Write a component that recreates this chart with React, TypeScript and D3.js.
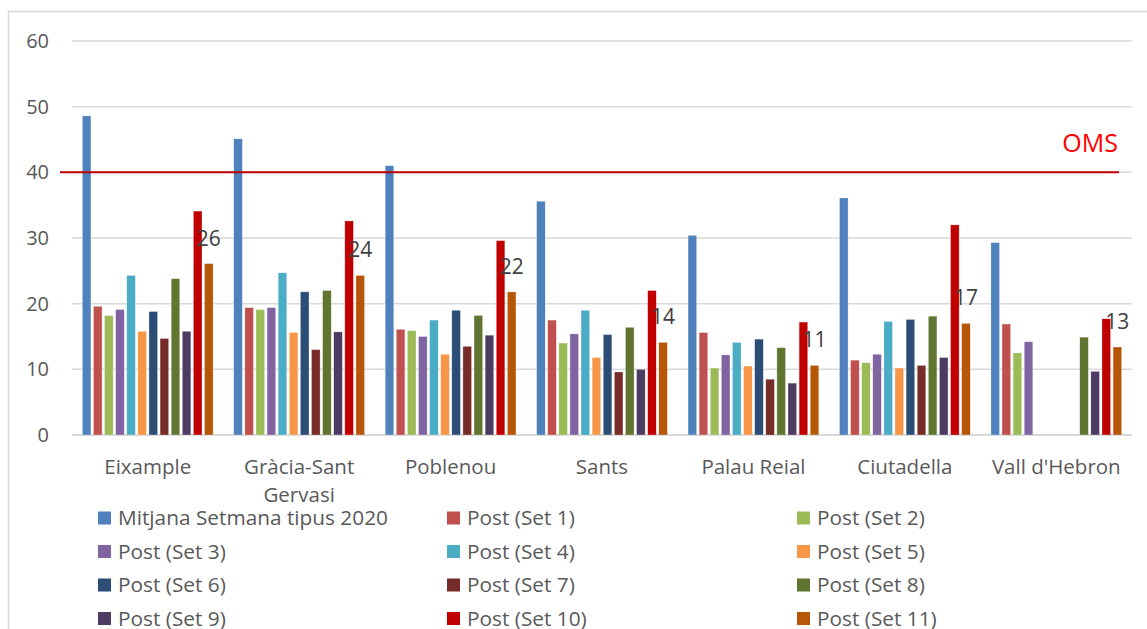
import * as React from 'react';
import * as d3 from 'd3';

const categories = ['Eixample', 'Gràcia-Sant Gervasi', 'Poblenou', 'Sants', 'Palau Reial', 'Ciutadella', "Vall d'Hebron"];
const seriesNames = [
  'Mitjana Setmana tipus 2020', 'Post (Set 1)', 'Post (Set 2)', 'Post (Set 3)', 'Post (Set 4)', 'Post (Set 5)',
  'Post (Set 6)', 'Post (Set 7)', 'Post (Set 8)', 'Post (Set 9)', 'Post (Set 10)', 'Post (Set 11)',
];
const colors = ['#4f81bd', '#c0504d', '#9bbb59', '#8064a2', '#4bacc6', '#f79646', '#2c4d75', '#772c2a', '#5f7530', '#4d3b62', '#c00000', '#b65708'];

// one row per series, one value per district (null = no data)
const mitjana2020 = [48.6, 45.1, 41.0, 35.6, 30.4, 36.1, 29.3];
const set1 = [19.6, 19.4, 16.1, 17.5, 15.6, 11.4, 16.9];
const set2 = [18.2, 19.1, 15.9, 14.0, 10.2, 11.0, 12.5];
const set3 = [19.1, 19.4, 15.0, 15.4, 12.2, 12.3, 14.2];
const set4 = [24.3, 24.7, 17.5, 19.0, 14.1, 17.3, null];
const set5 = [15.8, 15.6, 12.3, 11.8, 10.5, 10.2, null];
const set6 = [18.8, 21.8, 19.0, 15.3, 14.6, 17.6, null];
const set7 = [14.7, 13.0, 13.5, 9.6, 8.5, 10.6, null];
const set8 = [23.8, 22.0, 18.2, 16.4, 13.3, 18.1, 14.9];
const set9 = [15.8, 15.7, 15.2, 10.0, 7.9, 11.8, 9.7];
const set10 = [34.1, 32.6, 29.6, 22.0, 17.2, 32.0, 17.7];
const set11 = [26.1, 24.3, 21.8, 14.1, 10.6, 17.0, 13.4];

const series = [mitjana2020, set1, set2, set3, set4, set5, set6, set7, set8, set9, set10, set11];
const yTicks = [0, 10, 20, 30, 40, 50, 60];
const omsValue = 40;

const W = 1147;
const H = 629;
const font = '"Open Sans", "Liberation Sans", sans-serif';
const textGray = '#595959';

export default function App() {
  const x0 = d3.scaleBand<string>().domain(categories).range([72, 1132]).padding(0);
  const x1 = d3.scaleBand<number>()
    .domain(d3.range(series.length))
    .range([0, x0.bandwidth()])
    .paddingInner(0.225)
    .paddingOuter(0.93);
  const y = d3.scaleLinear().domain([0, 60]).range([435, 41]);

  const legendCols = [98, 447, 797];
  const legendRows = [518, 551.5, 585, 618.5];

  return (
    <svg width={W} height={H} style={{ position: 'absolute', left: 0, top: 0, background: '#fff' }} fontFamily={font}>
      <rect x={0} y={0} width={W} height={H} fill="#fff" />
      <rect x={8.5} y={11.5} width={W + 20} height={H + 20} fill="none" stroke="#d9d9d9" strokeWidth={1.5} />

      {/* grid + y labels */}
      {yTicks.map(t => (
        <g key={t}>
          <line x1={72} x2={1132} y1={y(t)} y2={y(t)} stroke="#d9d9d9" strokeWidth={t === 0 ? 2 : 1.5} />
          <text x={49} y={y(t)} dy="0.35em" textAnchor="end" fontSize={20} fill={textGray}>{t}</text>
        </g>
      ))}

      {/* bars */}
      {categories.map((c, ci) => (
        <g key={c} transform={`translate(${x0(c)},0)`}>
          {series.map((s, si) => {
            const v = s[ci];
            if (v == null) return null;
            return (
              <rect
                key={si}
                x={x1(si)}
                y={y(v)}
                width={x1.bandwidth()}
                height={y(0) - y(v)}
                fill={colors[si]}
                stroke="#fff"
                strokeOpacity={0.6}
                strokeWidth={0.5}
              />
            );
          })}
        </g>
      ))}

      {/* data labels for last series */}
      {categories.map((c, ci) => {
        const v = set11[ci];
        if (v == null) return null;
        const cx = (x0(c) ?? 0) + (x1(11) ?? 0) + x1.bandwidth() / 2;
        return (
          <text key={c} x={cx} y={y(v) - 18} textAnchor="middle" fontSize={21} fill="#404040">
            {Math.round(v)}
          </text>
        );
      })}

      {/* OMS reference */}
      <line x1={60} x2={1119} y1={y(omsValue)} y2={y(omsValue)} stroke="#c00000" strokeWidth={2} />
      <text x={1118} y={152} textAnchor="end" fontSize={25} fill="#ff0000">OMS</text>

      {/* category labels */}
      {categories.map(c => {
        const cx = (x0(c) ?? 0) + x0.bandwidth() / 2;
        const lines = c === 'Gràcia-Sant Gervasi' ? ['Gràcia-Sant', 'Gervasi'] : [c];
        return (
          <text key={c} x={cx} y={467} textAnchor="middle" fontSize={20.5} fill={textGray}>
            {lines.map((l, i) => (
              <tspan key={i} x={cx} dy={i === 0 ? '0.35em' : 28}>{l}</tspan>
            ))}
          </text>
        );
      })}

      {/* legend */}
      {seriesNames.map((name, i) => {
        const lx = legendCols[i % 3];
        const ly = legendRows[Math.floor(i / 3)];
        return (
          <g key={name}>
            <rect x={lx} y={ly - 6.5} width={13} height={13} fill={colors[i]} />
            <text x={lx + 20} y={ly} dy="0.35em" fontSize={20.8} fill={textGray}>{name}</text>
          </g>
        );
      })}
    </svg>
  );
}
